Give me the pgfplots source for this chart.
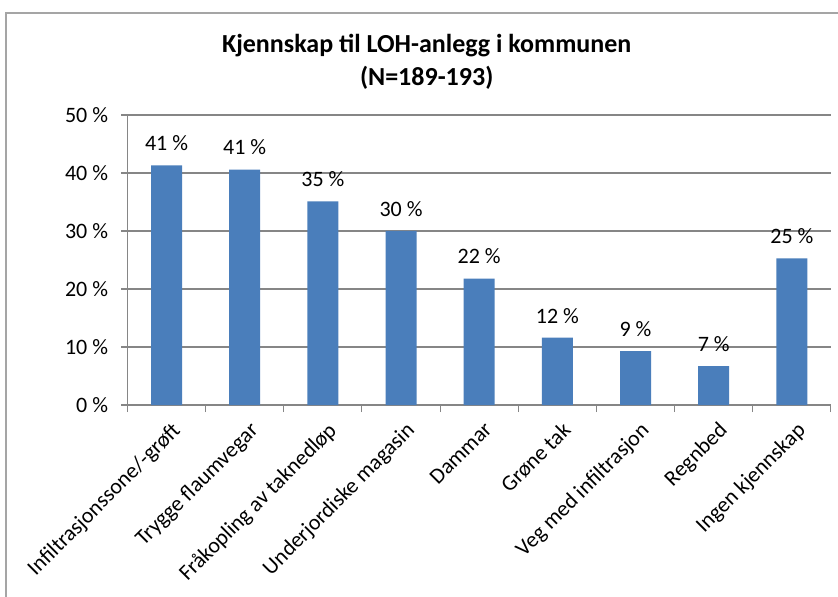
\documentclass[border=0pt]{standalone}
\usepackage{fontspec}
\setmainfont{Carlito}
\usepackage{pgfplots}
\pgfplotsset{compat=1.18}
\definecolor{barblue}{RGB}{74,126,187}
\definecolor{gridc}{RGB}{134,134,134}
\definecolor{framec}{RGB}{165,165,165}
\begin{document}
\begin{tikzpicture}
\useasboundingbox (0,0) rectangle (628.5pt,447pt);
\fill[white] (0,0) rectangle (628.5pt,447pt);
% chart area frame (left and top edges visible)
\draw[framec, line width=1.5pt] (4.8pt,-5pt) -- (4.8pt,437.2pt) -- (640pt,437.2pt);
\node[font=\bfseries\fontsize{19.5}{23}\selectfont] at (320pt,413pt) {Kjennskap til LOH-anlegg i kommunen};
\node[font=\bfseries\fontsize{19.5}{23}\selectfont] at (320pt,389pt) {(N=189-193)};
\begin{axis}[
  at={(95.6pt,143.25pt)}, anchor=south west,
  scale only axis,
  width=527.6pt, height=217.5pt,
  xmin=-0.5, xmax=8.5,
  ymin=0, ymax=50,
  ytick={0,10,20,30,40,50},
  yticklabel={\pgfmathprintnumber{\tick}~\%},
  /pgf/number format/assume math mode=true,
  xtick={0,...,8},
  xticklabels={Infiltrasjonssone/-grøft, Trygge flaumvegar, Fråkopling av taknedløp, Underjordiske magasin, Dammar, Grøne tak, Veg med infiltrasjon, Regnbed, Ingen kjennskap},
  minor xtick={-0.5,0.5,...,8.5},
  x tick style={draw=none},
  minor x tick style={draw=gridc, line width=0.8pt},
  y tick style={draw=gridc, line width=0.8pt},
  major tick length=4.5pt,
  minor tick length=5.25pt,
  tick align=outside,
  axis x line*=bottom, axis y line*=left,
  axis line style={draw=gridc, line width=0.8pt, -},
  ymajorgrids,
  grid style={draw=gridc, line width=0.8pt},
  tick label style={font=\fontsize{16.5}{19}\selectfont},
  xticklabel style={rotate=45, anchor=north east, inner sep=0pt, xshift=-3pt, yshift=-7pt},
  yticklabel style={xshift=-6.5pt},
  ybar, bar width=23.25pt,
  nodes near coords={\pgfmathprintnumber[fixed,precision=0]{\pgfplotspointmeta}~\%},
  nodes near coords style={font=\fontsize{16.5}{19}\selectfont, anchor=base, yshift=11pt},
  clip=false,
]
\addplot[fill=barblue, draw=none] coordinates {
  (0,41.3) (1,40.6) (2,35.1) (3,30.0) (4,21.8) (5,11.6) (6,9.3) (7,6.7) (8,25.3)
};
\end{axis}
\end{tikzpicture}
\end{document}
